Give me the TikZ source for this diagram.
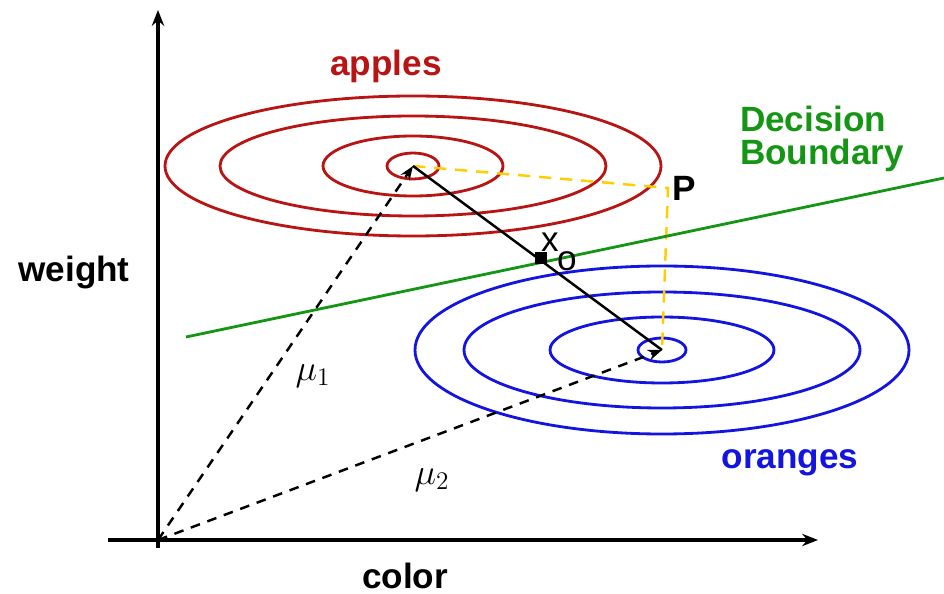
\documentclass[tikz,border=0pt]{standalone}
\usepackage{fontspec}
\setmainfont{Liberation Sans}
\usetikzlibrary{arrows.meta, positioning}
\definecolor{applered}{RGB}{185,20,20}
\definecolor{orangeblue}{RGB}{20,20,225}
\definecolor{boundgreen}{RGB}{20,150,20}
\definecolor{projyellow}{RGB}{255,205,0}

\begin{document}
\begin{tikzpicture}[
  x=0.02cm, y=-0.02cm,
  axis/.style={line width=2.2pt, -{Stealth[length=9pt, width=7pt]}},
  apple/.style={draw=applered, line width=1.6pt},
  orange/.style={draw=orangeblue, line width=1.6pt},
  meanvec/.style={dash pattern=on 5.5pt off 4.5pt, line width=1.4pt,
                  -{Stealth[length=8pt, width=6pt]}},
  proj/.style={draw=projyellow, dash pattern=on 7pt off 5pt, line width=1.4pt},
  label/.style={font=\fontsize{20}{24}\selectfont\bfseries},
  sym/.style={font=\fontsize{20}{24}\selectfont}
]
\useasboundingbox (0,0) rectangle (944,594);

% Points
\coordinate (O) at (158,540);
\coordinate (mu1) at (413,166);
\coordinate (mu2) at (662,350);
\coordinate (P) at (668,188);
\coordinate (db1) at (186,337);
\coordinate (db2) at (944,178);

% Apples
\draw[apple] (mu1) ellipse [x radius=26, y radius=13];
\draw[apple] (mu1) ellipse [x radius=90, y radius=30];
\draw[apple] (mu1) ellipse [x radius=193, y radius=50];
\draw[apple] (mu1) ellipse [x radius=248, y radius=70];
\node[label, text=applered] (apples) at (386,66) {apples};

% Oranges
\draw[orange] (mu2) ellipse [x radius=24, y radius=12];
\draw[orange] (mu2) ellipse [x radius=112, y radius=33];
\draw[orange] (mu2) ellipse [x radius=198, y radius=58];
\draw[orange] (mu2) ellipse [x radius=247, y radius=84];
\node[label, text=orangeblue] (oranges) at (790,463) {oranges};

% Projection through P
\draw[proj] (mu1) -- (P) -- (mu2);
\node[label] (plabel) at (684,188) {P};

% Decision boundary
\draw[boundgreen, line width=1.6pt] (db1) -- (db2);
\node[label, text=boundgreen, align=left] (dblabel) at (822,139)
  {Decision\\[-5pt]Boundary};

% Mean vectors
\draw[meanvec] (O) -- (mu1);
\draw[meanvec] (O) -- (mu2);
\node[sym] (m1) at (313,376) {$\mu_1$};
\node[sym] (m2) at (432,480) {$\mu_2$};

% Line between the means and x0
\draw[line width=1.4pt] (mu1) -- (mu2);
\node[fill, inner sep=0pt, minimum size=7pt] (x0) at (541,258) {};
\node[sym] (xl) at (550,242) {x};
\node[sym] (ol) at (567,261) {o};

% Axes
\draw[axis] (158,548) -- (158,10);
\draw[axis] (108,540) -- (818,540);
\node[label] (weight) at (74,272) {weight};
\node[label, inner sep=0pt] (color) at (405,576) {color};
\end{tikzpicture}
\end{document}
